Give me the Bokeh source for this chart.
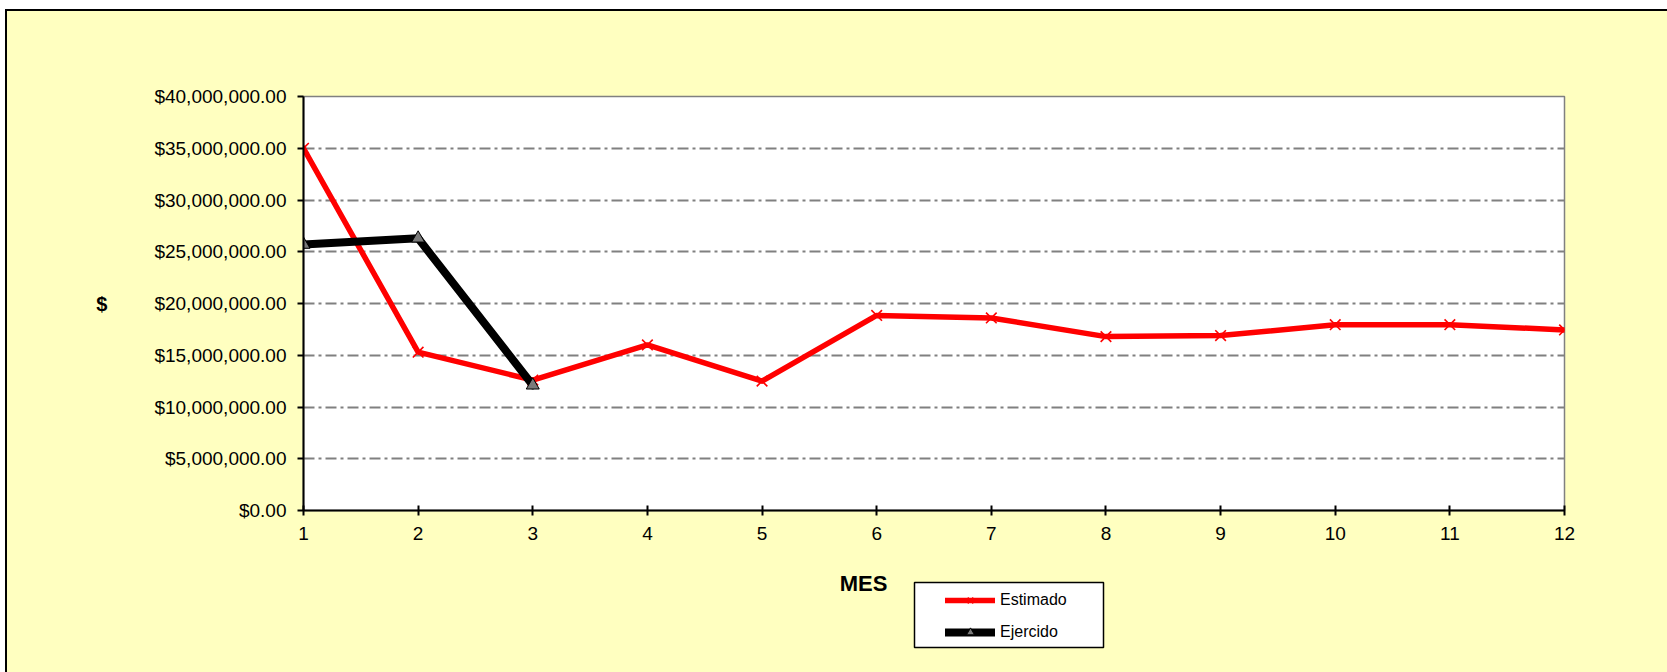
from bokeh.plotting import figure
from bokeh.layouts import column
from bokeh.models import (NumeralTickFormatter, FixedTicker, Range1d, Legend,
                          LegendItem, BoxAnnotation, Label)
from bokeh.embed import file_html
from bokeh.resources import INLINE

# ---- data ----
meses = [1, 2, 3, 4, 5, 6, 7, 8, 9, 10, 11, 12]
estimado = [35.0e6, 15.3e6, 12.6e6, 16.0e6, 12.5e6, 18.85e6, 18.6e6,
            16.8e6, 16.9e6, 17.95e6, 17.95e6, 17.45e6]
meses_ejercido = [1, 2, 3]
ejercido = [25.7e6, 26.3e6, 12.1e6]
y_ticks = [0, 5e6, 10e6, 15e6, 20e6, 25e6, 30e6, 35e6, 40e6]
serie_nombres = ["Estimado", "Ejercido"]
x_titulo = "MES"
y_titulo = "$"

FONT = "Liberation Sans"
BG = "#FFFFC0"
RED = "#FF0000"
W = 1660
BL, BR = 296, 103

# ---------------- main chart ----------------
p = figure(width=W, height=561, output_backend="svg", toolbar_location=None,
           x_range=Range1d(1, 12), y_range=Range1d(0, 40e6),
           min_border_left=BL, min_border_right=BR,
           min_border_top=85, min_border_bottom=62,
           background_fill_color="white", border_fill_color=BG)

p.outline_line_color = "#808080"
p.outline_line_width = 1.5

p.xgrid.grid_line_color = None
p.ygrid.grid_line_color = "#808080"
p.ygrid.grid_line_width = 2
p.ygrid.grid_line_dash = "11 4 3 4"

p.yaxis.ticker = FixedTicker(ticks=y_ticks)
p.yaxis.formatter = NumeralTickFormatter(format="$0,0.00")
p.yaxis.major_tick_in = 0
p.yaxis.major_tick_out = 6
p.yaxis.major_label_standoff = 11
p.yaxis.axis_label = y_titulo
p.yaxis.axis_label_orientation = "horizontal"
p.yaxis.axis_label_standoff = 44
p.yaxis.axis_label_text_font_style = "bold"
p.yaxis.axis_label_text_font_size = "20px"

p.xaxis.ticker = FixedTicker(ticks=meses)
p.xaxis.major_tick_in = 5
p.xaxis.major_tick_out = 5
p.xaxis.major_label_standoff = 11

for ax in (p.xaxis[0], p.yaxis[0]):
    ax.axis_line_color = "black"
    ax.axis_line_width = 2
    ax.major_tick_line_color = "black"
    ax.major_tick_line_width = 2
    ax.minor_tick_line_color = None
    ax.major_label_text_font = FONT
    ax.major_label_text_font_size = "19px"
    ax.major_label_text_color = "black"
    ax.axis_label_text_font = FONT
    ax.axis_label_text_color = "black"

def series(fig, xs, ys):
    r1 = fig.line(xs[0], ys[0], line_color=RED, line_width=5.5,
                  line_cap="round", line_join="round")
    s1 = fig.scatter(xs[0], ys[0], marker="x", size=15, line_color=RED,
                     line_width=1.6)
    r2 = fig.line(xs[1], ys[1], line_color="black", line_width=8,
                  line_cap="round", line_join="round")
    s2 = fig.scatter(xs[1], ys[1], marker="triangle", size=13,
                     fill_color="#7a7a7a", line_color="black", line_width=1)
    return [r1, s1], [r2, s2]

series(p, [meses, meses_ejercido], [estimado, ejercido])

# ---------------- strip below: axis title + legend ----------------
# data units of this strip equal page pixels (its frame is aligned with p's)
H2 = 100
q = figure(width=W, height=H2, output_backend="svg", toolbar_location=None,
           x_range=Range1d(303, 1564), y_range=Range1d(672, 572),
           x_axis_location=None, y_axis_location=None,
           min_border_left=BL, min_border_right=BR,
           min_border_top=0, min_border_bottom=0,
           background_fill_color=BG, border_fill_color=BG)
q.outline_line_color = None
q.grid.grid_line_color = None

# legend renderers (same series, lying outside this strip's view)
leg_e, leg_j = series(q, [meses, meses_ejercido], [estimado, ejercido])

q.add_layout(BoxAnnotation(left=914, right=1103, top=582, bottom=647,
                           fill_color="white", fill_alpha=1.0,
                           line_color="black", line_alpha=1.0, line_width=1.5))

legend = Legend(items=[LegendItem(label=serie_nombres[0], renderers=leg_e),
                       LegendItem(label=serie_nombres[1], renderers=leg_j)],
                location=(642, 30), margin=0, padding=8, spacing=12,
                label_height=20, glyph_width=50, glyph_height=20,
                label_standoff=5,
                label_text_font=FONT, label_text_font_size="16px",
                label_text_color="black",
                border_line_color=None, background_fill_alpha=0.0)
q.add_layout(legend)

q.add_layout(Label(x=863, y=583, text=x_titulo, text_align="center",
                   text_baseline="middle", text_font=FONT,
                   text_font_style="bold", text_font_size="22px",
                   text_color="black"))

layout = column(p, q, spacing=0,
                styles={"border-top": "2px solid black",
                        "border-left": "2px solid black",
                        "margin-left": "5px", "margin-top": "9px",
                        "background-color": BG})
open("out.html", "w").write(file_html(layout, INLINE))
